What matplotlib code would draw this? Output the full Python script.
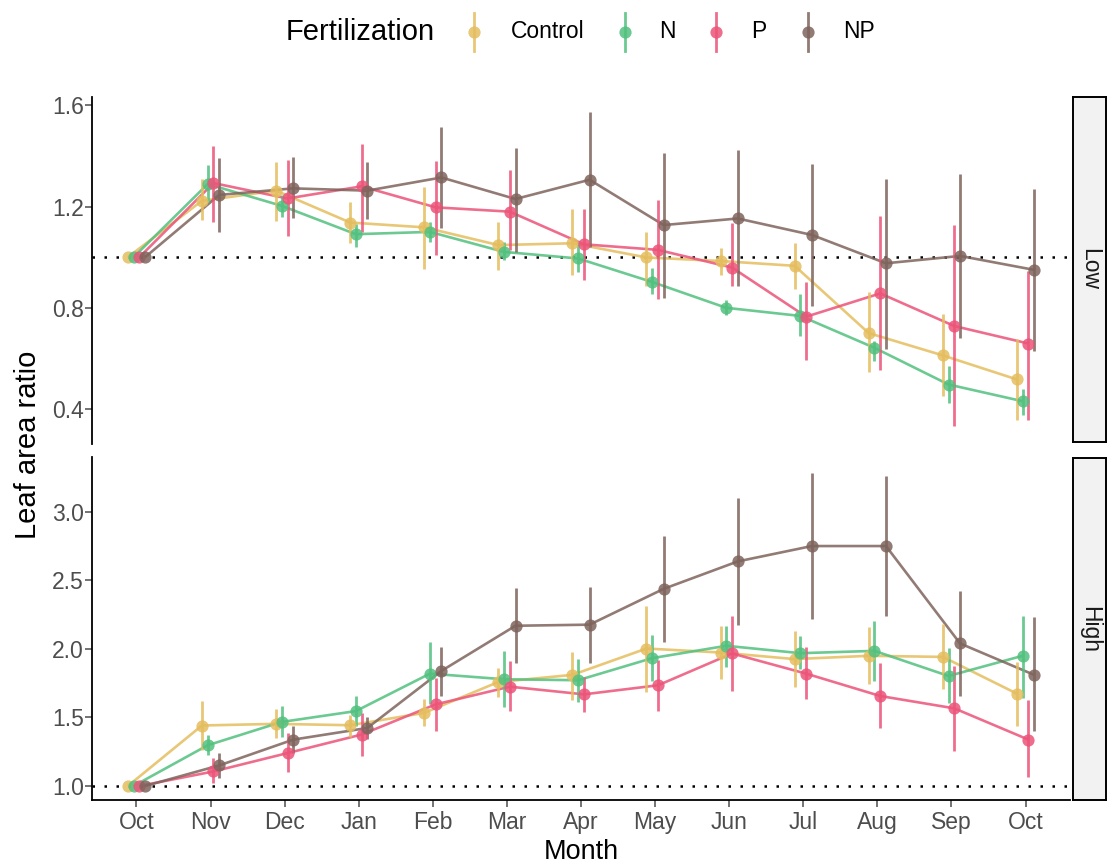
import matplotlib
matplotlib.use("Agg")
import matplotlib.pyplot as plt
from matplotlib.lines import Line2D
import numpy as np

plt.rcParams['font.family'] = ['Liberation Sans', 'DejaVu Sans']

months = ["Oct", "Nov", "Dec", "Jan", "Feb", "Mar", "Apr", "May", "Jun", "Jul", "Aug", "Sep", "Oct"]
groups = ["Control", "N", "P", "NP"]
colors = {"Control": "#E5BD5E", "N": "#52C07F", "P": "#EC5479", "NP": "#7E645C"}

# ---- Low panel ----
low_control = [1.0, 1.223, 1.263, 1.137, 1.118, 1.048, 1.055, 0.999, 0.985, 0.966, 0.700, 0.612, 0.517]
low_control_lo = [1.0, 1.148, 1.144, 1.055, 0.952, 0.948, 0.930, 0.886, 0.930, 0.873, 0.546, 0.450, 0.358]
low_control_hi = [1.0, 1.309, 1.376, 1.220, 1.276, 1.140, 1.190, 1.100, 1.038, 1.058, 0.863, 0.774, 0.675]

low_n = [1.0, 1.289, 1.203, 1.091, 1.100, 1.021, 0.995, 0.902, 0.800, 0.768, 0.642, 0.497, 0.431]
low_n_lo = [1.0, 1.220, 1.160, 1.040, 1.060, 0.990, 0.940, 0.853, 0.770, 0.690, 0.590, 0.425, 0.378]
low_n_hi = [1.0, 1.364, 1.245, 1.130, 1.140, 1.060, 1.060, 0.959, 0.830, 0.853, 0.670, 0.572, 0.480]

low_p = [1.0, 1.293, 1.232, 1.280, 1.197, 1.180, 1.051, 1.029, 0.959, 0.765, 0.857, 0.728, 0.659]
low_p_lo = [1.0, 1.140, 1.084, 1.100, 1.008, 1.030, 0.910, 0.834, 0.886, 0.593, 0.554, 0.335, 0.358]
low_p_hi = [1.0, 1.441, 1.385, 1.448, 1.381, 1.345, 1.190, 1.226, 1.137, 0.902, 1.164, 1.127, 0.946]

low_np = [1.0, 1.246, 1.272, 1.263, 1.315, 1.230, 1.306, 1.127, 1.153, 1.088, 0.976, 1.005, 0.950]
low_np_lo = [1.0, 1.099, 1.153, 1.150, 1.114, 1.020, 1.040, 0.840, 0.886, 0.807, 0.636, 0.682, 0.629]
low_np_hi = [1.0, 1.392, 1.395, 1.375, 1.516, 1.430, 1.573, 1.410, 1.424, 1.368, 1.310, 1.330, 1.270]

# ---- High panel ----
high_control = [1.0, 1.441, 1.453, 1.443, 1.533, 1.758, 1.810, 2.002, 1.973, 1.925, 1.949, 1.941, 1.673]
high_control_lo = [1.0, 1.265, 1.350, 1.360, 1.436, 1.648, 1.630, 1.687, 1.782, 1.722, 1.741, 1.705, 1.436]
high_control_hi = [1.0, 1.619, 1.563, 1.520, 1.636, 1.859, 1.980, 2.315, 2.168, 2.127, 2.161, 2.181, 1.907]

high_n = [1.0, 1.297, 1.467, 1.546, 1.819, 1.778, 1.771, 1.932, 2.022, 1.968, 1.985, 1.802, 1.949]
high_n_lo = [1.0, 1.229, 1.355, 1.436, 1.595, 1.575, 1.614, 1.766, 1.870, 1.851, 1.766, 1.607, 1.643]
high_n_hi = [1.0, 1.375, 1.582, 1.656, 2.046, 1.985, 1.925, 2.103, 2.168, 2.095, 2.205, 2.005, 2.242]

high_p = [1.0, 1.106, 1.240, 1.375, 1.595, 1.724, 1.668, 1.734, 1.966, 1.819, 1.656, 1.566, 1.338]
high_p_lo = [1.0, 1.020, 1.100, 1.216, 1.400, 1.546, 1.540, 1.546, 1.692, 1.631, 1.423, 1.253, 1.062]
high_p_hi = [1.0, 1.204, 1.387, 1.533, 1.790, 1.912, 1.795, 1.917, 2.242, 2.010, 1.895, 1.875, 1.624]

high_np = [1.0, 1.150, 1.338, 1.423, 1.839, 2.168, 2.176, 2.437, 2.637, 2.749, 2.749, 2.039, 1.810]
high_np_lo = [1.0, 1.057, 1.240, 1.346, 1.656, 1.900, 1.900, 2.053, 2.176, 2.218, 2.242, 1.656, 1.400]
high_np_hi = [1.0, 1.240, 1.436, 1.504, 2.015, 2.442, 2.449, 2.820, 3.100, 3.284, 3.260, 2.420, 2.229]

low_data = {
    "Control": (low_control, low_control_lo, low_control_hi),
    "N": (low_n, low_n_lo, low_n_hi),
    "P": (low_p, low_p_lo, low_p_hi),
    "NP": (low_np, low_np_lo, low_np_hi),
}
high_data = {
    "Control": (high_control, high_control_lo, high_control_hi),
    "N": (high_n, high_n_lo, high_n_hi),
    "P": (high_p, high_p_lo, high_p_hi),
    "NP": (high_np, high_np_lo, high_np_hi),
}

W, H = 1107, 866
fig = plt.figure(figsize=(W / 100, H / 100), dpi=100)
fig.patch.set_facecolor("white")

ax_low = fig.add_axes([92 / W, 1 - 444 / H, (1070 - 92) / W, (444 - 97) / H])
ax_high = fig.add_axes([92 / W, 1 - 800 / H, (1070 - 92) / W, (800 - 457) / H])

x = np.arange(1, len(months) + 1)
offsets = {"Control": -0.116, "N": -0.039, "P": 0.039, "NP": 0.116}
tick_col = "#4D4D4D"
TICK_FS = 16.5
TITLE_FS = 21


def draw_panel(ax, data):
    ax.axhline(1.0, color="black", lw=1.8, linestyle=(0, (1, 3.8)), zorder=1)
    for g in groups:
        m, lo, hi = (np.array(v) for v in data[g])
        xx = x + offsets[g]
        ax.plot(xx, m, color=colors[g], lw=1.9, alpha=0.85, zorder=2, solid_capstyle="butt")
        ax.vlines(xx, lo, hi, color=colors[g], lw=2.0, alpha=0.85, zorder=3)
        ax.plot(xx, m, "o", color=colors[g], ms=8.8, alpha=0.85, mew=0, zorder=4)
    ax.set_xlim(0.4, 13.6)
    for s in ["top", "right"]:
        ax.spines[s].set_visible(False)
    ax.spines["left"].set_linewidth(1.3)
    ax.spines["bottom"].set_linewidth(1.3)
    ax.tick_params(axis="both", colors=tick_col, labelsize=TICK_FS, length=5, width=1.1,
                   labelcolor=tick_col)
    ax.tick_params(axis="y", pad=1.0)
    ax.tick_params(axis="x", pad=3.0)


draw_panel(ax_low, low_data)
draw_panel(ax_high, high_data)

ax_low.set_ylim(0.262, 1.633)
ax_low.set_yticks([0.4, 0.8, 1.2, 1.6])
ax_low.set_yticklabels(["0.4", "0.8", "1.2", "1.6"])
ax_low.spines["bottom"].set_visible(False)
ax_low.set_xticks([])

ax_high.set_ylim(0.898, 3.398)
ax_high.set_yticks([1.0, 1.5, 2.0, 2.5, 3.0])
ax_high.set_yticklabels(["1.0", "1.5", "2.0", "2.5", "3.0"])
ax_high.set_xticks(x)
ax_high.set_xticklabels(months)

fig.text(581 / W, 1 - 865 / H, "Month", fontsize=19.5, ha="center", va="bottom", color="black")
fig.text(28 / W, 1 - 445 / H, "Leaf area ratio", rotation=90, fontsize=TITLE_FS,
         ha="center", va="center", color="black")

# facet strips
for (top, bot, lab) in [(97, 442, "Low"), (458, 800, "High")]:
    sax = fig.add_axes([1073 / W, 1 - bot / H, 33 / W, (bot - top) / H])
    sax.set_facecolor("#F2F2F2")
    sax.set_xticks([])
    sax.set_yticks([])
    for s in sax.spines.values():
        s.set_linewidth(1.4)
        s.set_color("black")
    sax.text(0.5, 0.5, lab, rotation=-90, ha="center", va="center",
             fontsize=16.5, color="#1A1A1A", transform=sax.transAxes)

# legend (top)
lax = fig.add_axes([0, 0, 1, 1], facecolor="none")
lax.set_xlim(0, W)
lax.set_ylim(H, 0)
lax.axis("off")
lax.text(286, 32, "Fertilization", fontsize=21, ha="left", va="center", color="black")
key_x = {"Control": 474, "N": 625, "P": 716, "NP": 808}
lab_x = {"Control": 511, "N": 659, "P": 751, "NP": 843}
for g in groups:
    lax.add_line(Line2D([key_x[g], key_x[g]], [13, 51], color=colors[g], lw=2.0, alpha=0.85))
    lax.plot([key_x[g]], [32], "o", color=colors[g], ms=8.8, alpha=0.85, mew=0)
    lax.text(lab_x[g], 32, g, fontsize=16.5, ha="left", va="center", color="black")

fig.savefig("out.png", dpi=100, facecolor="white")
